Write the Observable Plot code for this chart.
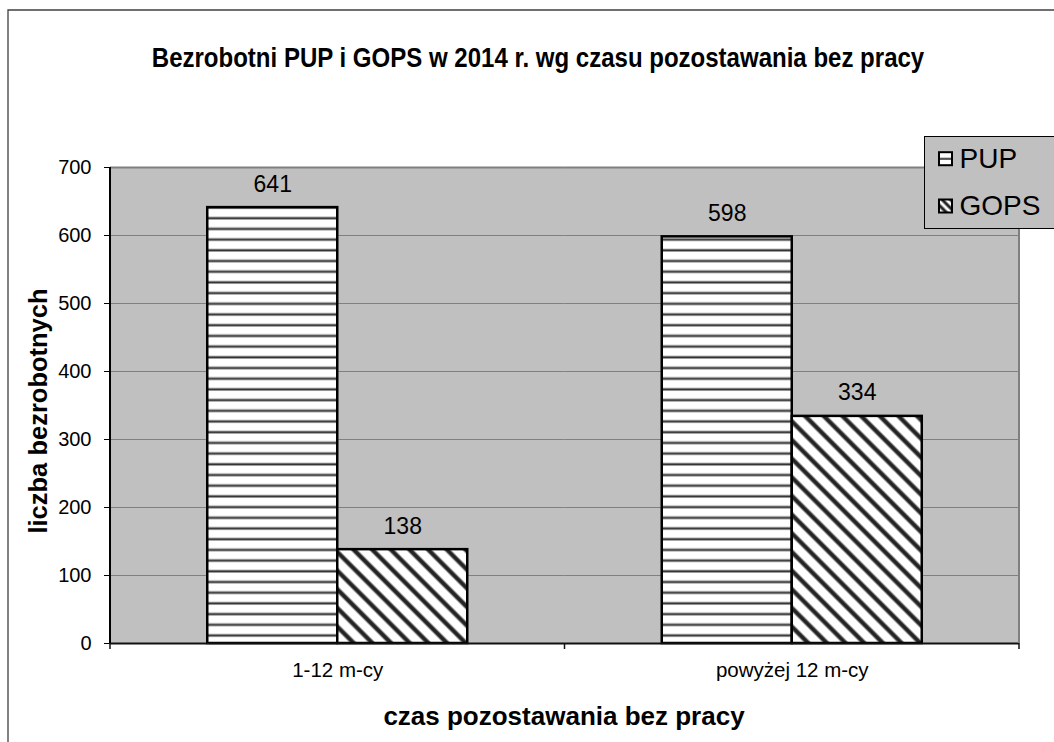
<!DOCTYPE html>
<html>
<head>
<meta charset="utf-8">
<script src="https://cdn.jsdelivr.net/npm/d3@7"></script>
<script src="https://cdn.jsdelivr.net/npm/@observablehq/plot@0.6"></script>
<style>
  html, body { margin: 0; padding: 0; background: #fff; overflow: hidden; width: 1054px; height: 742px; }
  #wrap { position: relative; width: 1054px; height: 742px; font-family: "Liberation Sans", Arial, sans-serif; }
  #chart, #overlay { position: absolute; left: 0; top: 0; }
  #overlay { pointer-events: none; }
</style>
</head>
<body>
<svg width="0" height="0" style="position:absolute">
  <defs>
    <pattern id="hstripe" patternUnits="userSpaceOnUse" width="20" height="10.7">
      <rect x="0" y="0" width="20" height="10.7" fill="#ffffff"/>
      <rect x="0" y="2.6" width="20" height="3.2" fill="#9a9a9a"/>
      <rect x="0" y="3.5" width="20" height="1.4" fill="#333333"/>
    </pattern>
    <pattern id="dstripe" patternUnits="userSpaceOnUse" width="13.2" height="13.2" patternTransform="rotate(-45)">
      <rect x="0" y="0" width="13.2" height="13.2" fill="#ffffff"/>
      <rect x="4" y="0" width="5.2" height="13.2" fill="#8a8a8a"/>
      <rect x="4.9" y="0" width="3.4" height="13.2" fill="#222222"/>
    </pattern>
    <pattern id="dswatch" patternUnits="userSpaceOnUse" width="6" height="6" patternTransform="rotate(-45)">
      <rect x="0" y="0" width="6" height="6" fill="#ffffff"/>
      <rect x="1.5" y="0" width="3" height="6" fill="#222222"/>
    </pattern>
  </defs>
</svg>
<div id="wrap"></div>
<script>
// ---- data ----
const categories = ["1-12 m-cy", "powyżej 12 m-cy"];
const series = ["PUP", "GOPS"];
const pupValues = [641, 598];
const gopsValues = [138, 334];
const yTicks = [0, 100, 200, 300, 400, 500, 600, 700];
const titleText = "Bezrobotni PUP i GOPS w 2014 r. wg czasu pozostawania bez pracy";
const yTitle = "liczba bezrobotnych";
const xTitle = "czas pozostawania bez pracy";

const seriesValues = {PUP: pupValues, GOPS: gopsValues};
const seriesFill = {PUP: "url(#hstripe)", GOPS: "url(#dstripe)"};
const data = categories.flatMap((c, i) => series.map(s => ({cat: c, series: s, value: seriesValues[s][i]})));

const chart = Plot.plot({
  width: 1054,
  height: 742,
  marginLeft: 110,
  marginRight: 35,
  marginTop: 167,
  marginBottom: 99,
  style: {fontFamily: "'Liberation Sans', Arial, sans-serif", background: "transparent", color: "#000"},
  fx: {domain: categories, padding: 0, round: false, label: null},
  x: {domain: series, paddingInner: 0, paddingOuter: 0.748, round: false, axis: null},
  y: {domain: [0, 700], ticks: yTicks, label: null},
  marks: [
    Plot.gridY(yTicks, {stroke: "#808080", strokeOpacity: 1, strokeWidth: 1}),
    Plot.ruleY([700], {stroke: "#808080", strokeWidth: 2}),
    ...series.map(s => Plot.barY(data, {
      filter: d => d.series === s,
      fx: "cat", x: "series", y: "value",
      fill: seriesFill[s], stroke: "#000", strokeWidth: 2.5
    })),
    Plot.text(data, {
      fx: "cat", x: "series", y: "value",
      text: d => String(d.value),
      dy: -16, lineAnchor: "bottom", fontSize: 23, fill: "#000"
    }),
    Plot.ruleY([0], {stroke: "#111", strokeWidth: 2}),
    Plot.axisY(yTicks, {anchor: "left", tickSize: 6, tickPadding: 13, fontSize: 20, label: null, stroke: "#000"}),
    Plot.axisFx({anchor: "bottom", tickSize: 0, tickPadding: 19, fontSize: 20.5, label: null})
  ]
});
chart.id = "chart";
document.getElementById("wrap").appendChild(chart);

// plot-area background, side borders and category boundary ticks, from the library's scales
try {
  const fx = chart.scale("fx");
  const y = chart.scale("y");
  const y0 = y.apply(0), yTop = y.apply(700);
  const x0 = fx.range[0], x1 = fx.range[1];
  const step = (x1 - x0) / categories.length;
  d3.select(chart).insert("rect", ":first-child")
    .attr("x", x0).attr("y", yTop).attr("width", x1 - x0).attr("height", y0 - yTop)
    .attr("fill", "#c0c0c0");
  const g = d3.select(chart).append("g");
  g.append("line").attr("x1", x1).attr("x2", x1).attr("y1", yTop).attr("y2", y0)
    .attr("stroke", "#808080").attr("stroke-width", 2);
  g.append("line").attr("x1", x0).attr("x2", x0).attr("y1", yTop).attr("y2", y0)
    .attr("stroke", "#000").attr("stroke-width", 2);
  const bounds = d3.range(categories.length + 1).map(i => x0 + i * step);
  g.selectAll("line.bt").data(bounds).join("line").attr("class", "bt")
    .attr("x1", d => d).attr("x2", d => d)
    .attr("y1", y0).attr("y2", y0 + 6)
    .attr("stroke", "#111").attr("stroke-width", 1.5);
} catch (e) { console.error(e); }

// overlay: border, titles, legend
const W = 1054, H = 742;
const ov = d3.select("#wrap").append("svg").attr("id", "overlay").attr("width", W).attr("height", H)
  .style("font-family", "'Liberation Sans', Arial, sans-serif");
ov.append("path").attr("d", `M8,${H} L8,10 L${W},10`).attr("fill", "none").attr("stroke", "#404040").attr("stroke-width", 1.3);
ov.append("text").attr("transform", "translate(538,66.7) scale(0.89,1)").attr("text-anchor", "middle")
  .attr("font-size", 27).attr("font-weight", "bold").text(titleText);
ov.append("text").attr("transform", "translate(46.5,411) rotate(-90)").attr("text-anchor", "middle")
  .attr("font-size", 25.5).attr("font-weight", "bold").text(yTitle);
ov.append("text").attr("x", 564).attr("y", 725).attr("text-anchor", "middle")
  .attr("font-size", 26).attr("font-weight", "bold").text(xTitle);

const lg = ov.append("g");
lg.append("rect").attr("x", 924.5).attr("y", 136.5).attr("width", 140).attr("height", 92)
  .attr("fill", "#c0c0c0").attr("stroke", "#000").attr("stroke-width", 1);
const lgRowBase = {PUP: 167.7, GOPS: 215};
series.forEach(s => {
  const b = lgRowBase[s];
  const gx = 939, gy = b - 15.5;
  const sw = lg.append("g");
  sw.append("rect").attr("x", gx).attr("y", gy).attr("width", 13).attr("height", 13).attr("fill", "#fff");
  if (s === "PUP") {
    sw.append("rect").attr("x", gx).attr("y", gy + 5.5).attr("width", 13).attr("height", 2.2).attr("fill", "#555");
  } else {
    sw.append("rect").attr("x", gx).attr("y", gy).attr("width", 13).attr("height", 13).attr("fill", "url(#dswatch)");
  }
  sw.append("rect").attr("x", gx).attr("y", gy).attr("width", 13).attr("height", 13)
    .attr("fill", "none").attr("stroke", "#000").attr("stroke-width", 2);
  lg.append("text").attr("x", 959.5).attr("y", b).attr("font-size", 28).attr("fill", "#000").text(s);
});
</script>
</body>
</html>
